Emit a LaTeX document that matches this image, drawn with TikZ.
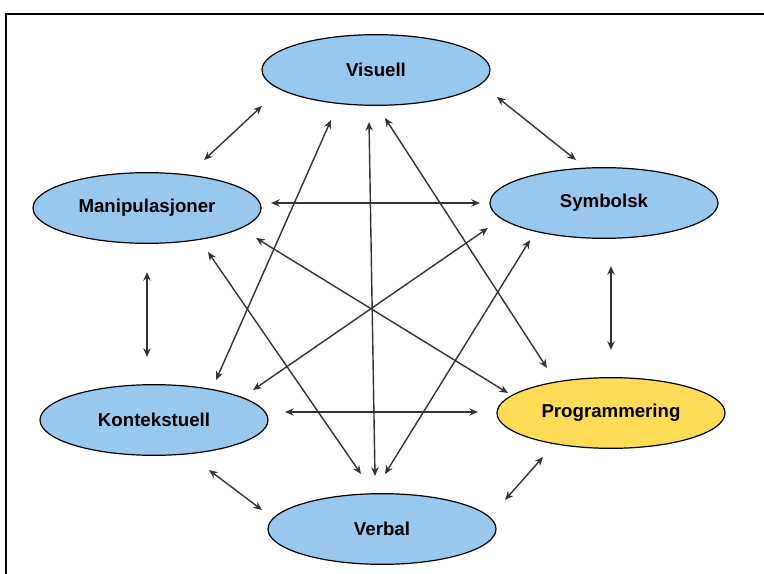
\documentclass[tikz,border=0pt]{standalone}
\usepackage{fontspec}
\setmainfont{Liberation Sans}
\usetikzlibrary{shapes.geometric,arrows.meta}
\definecolor{formblue}{RGB}{153,200,238}
\definecolor{formyellow}{RGB}{254,220,86}
\begin{document}
\begin{tikzpicture}[
    x=0.75pt, y=-0.75pt,
    form/.style = {ellipse, draw, line width=0.9pt, minimum width=171pt, minimum height=53pt, fill=formblue, font=\bfseries\fontsize{14}{16}\selectfont},
    prog/.style = {form, fill=formyellow},
    link/.style = {{Stealth[length=6.5pt,width=5.5pt]}-{Stealth[length=6.5pt,width=5.5pt]}, line width=1.05pt, draw=black!80}
]
    \useasboundingbox (0,0) rectangle (764,574);
    % Frame
    \draw[line width=1.3pt] (6,574) -- (6,14) -- (764,14);
    % Forms of representation
    \node[form] (vis) at (376,70) {Visuell};
    \node[form] (man) at (147,208) {Manipulasjoner};
    \node[form] (sym) at (604,203) {Symbolsk};
    \node[form] (kon) at (154,420) {Kontekstuell};
    \node[prog] (pro) at (611,413) {Programmering};
    \node[form] (ver) at (382,529) {Verbal};
    % Arrows around the ring
    \draw[link] ([shift={(-114,36)}]vis.center) -- ([shift={(57,-48)}]man.center);
    \draw[link] ([shift={(121,27)}]vis.center) -- ([shift={(-28,-43)}]sym.center);
    \draw[link] ([shift={(124,-5)}]man.center) -- ([shift={(-124,0)}]sym.center);
    \draw[link] ([shift={(0,64)}]man.center) -- ([shift={(-7,-63)}]kon.center);
    \draw[link] ([shift={(7,63)}]sym.center) -- ([shift={(0,-63)}]pro.center);
    \draw[link] ([shift={(131,-8)}]kon.center) -- ([shift={(-133,-1)}]pro.center);
    \draw[link] ([shift={(55,50)}]kon.center) -- ([shift={(-120,-19)}]ver.center);
    \draw[link] ([shift={(-68,44)}]pro.center) -- ([shift={(123,-29)}]ver.center);
    % Arrows across
    \draw[link] ([shift={(62,-40)}]kon.center) -- ([shift={(-45,50)}]vis.center);
    \draw[link] ([shift={(-7,-53)}]ver.center) -- ([shift={(-7,52)}]vis.center);
    \draw[link] ([shift={(-64,-45)}]pro.center) -- ([shift={(9,48)}]vis.center);
    \draw[link] ([shift={(61,44)}]man.center) -- ([shift={(-21,-55)}]ver.center);
    \draw[link] ([shift={(-74,37)}]sym.center) -- ([shift={(3,-55)}]ver.center);
    \draw[link] ([shift={(109,30)}]man.center) -- ([shift={(-103,-20)}]pro.center);
    \draw[link] ([shift={(-116,25)}]sym.center) -- ([shift={(99,-30)}]kon.center);
\end{tikzpicture}
\end{document}
